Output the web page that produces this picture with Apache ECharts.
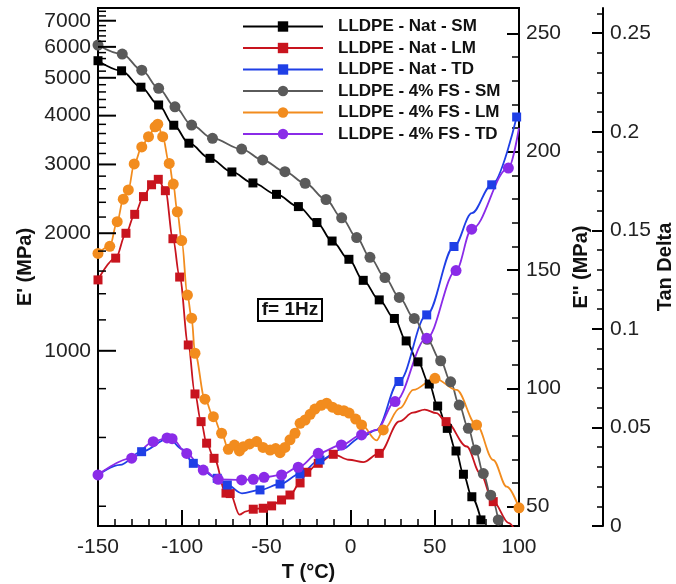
<!DOCTYPE html>
<html>
<head>
<meta charset="utf-8">
<title>LLDPE DMA</title>
<script src="https://cdn.jsdelivr.net/npm/echarts@6/dist/echarts.min.js"></script>
<style>
  html, body { margin: 0; background: #fff; }
  #chart { width: 676px; height: 584px; }
</style>
</head>
<body>
<div id="chart"></div>
<script>
// T (°C) vs storage modulus E' (MPa, log axis)
const natSM = [[-150, 5530], [-136, 5210], [-124.5, 4730], [-114, 4260], [-105, 3780], [-96, 3400], [-83.5, 3110], [-70.5, 2870], [-58, 2690], [-44, 2515], [-31, 2340], [-20, 2130], [-11, 1910], [-1, 1715], [7.5, 1515], [17, 1350], [26, 1210], [33, 1060], [40, 937], [46.7, 822], [51.7, 722], [57.4, 633], [62.6, 554], [67, 483], [72, 423], [77.4, 369]]
const fsSM = [[-150, 6065], [-135.6, 5750], [-124, 5230], [-114, 4700], [-104.3, 4215], [-94.4, 3785], [-82, 3500], [-64.7, 3285], [-52.2, 3080], [-39, 2875], [-27, 2685], [-14.6, 2440], [-5.3, 2190], [3.6, 1950], [11.5, 1735], [20.4, 1540], [28.9, 1370], [37.8, 1210], [45.5, 1070], [53.5, 943], [59.4, 833], [64.5, 726], [69.9, 633], [74.3, 557], [78.8, 485], [83.2, 427], [87.7, 369]]

// loss modulus E'' (MPa); *Fit = points on the fitted curve without a marker
const natLM = [[-150, 145.8], [-139.5, 155], [-133.4, 165.5], [-128.2, 173.5], [-123, 181], [-118.2, 186], [-114.2, 188.3], [-110, 183.5], [-105.5, 163.2], [-101.5, 147], [-96.4, 118.3], [-92.4, 97.6], [-88.8, 85.9], [-85.5, 76.8], [-81.1, 70.4], [-74, 55.7], [-71.5, 55.5], [-57.8, 48.9], [-51.9, 49.3], [-46.9, 50.3], [-41, 52.8], [-36, 54.9], [-30, 60], [-26, 64.5], [-19.2, 68.3], [-10.3, 72.1], [17, 72.5], [56.7, 85.9], [84.7, 52.1]]
const natLMFit = [[-66, 46.6], [-62, 48], [-1, 69.8], [7.5, 68.8], [29, 86], [37, 89.7], [44, 91], [51, 89.5], [69, 75.4], [77, 64], [94, 43], [99, 38]]
const fsLM = [[-150, 157], [-143, 160], [-138.6, 170.4], [-135, 179.9], [-132, 183.8], [-128.5, 194.8], [-124, 202], [-120, 206.3], [-116.1, 210.5], [-114.5, 211.6], [-111.6, 206.3], [-107.7, 195], [-105.3, 186.3], [-102.9, 174.6], [-100.3, 162.4], [-96.9, 139.4], [-94.4, 129.6], [-92.4, 114.8], [-86.5, 95.4], [-81.5, 88], [-76.6, 81], [-72.6, 74.2], [-69, 76], [-66, 73.5], [-63.7, 75.3], [-60, 76.5], [-55.8, 77.5], [-52, 75], [-47.8, 73.9], [-44.5, 74.5], [-41.9, 72.8], [-39, 75], [-36, 78.2], [-33, 81], [-30, 85.2], [-27, 86.6], [-24, 89], [-21.2, 91.2], [-17.5, 92.8], [-14.2, 93.7], [-10.8, 92], [-7.4, 90.9], [-4, 90.5], [-0.9, 89.5], [3, 87], [6.5, 84.5], [19.4, 82.4], [50.1, 104.2], [74.8, 84.5], [100, 49.5]]
const fsLMFit = [[15.5, 78], [29.3, 91.6], [37.2, 99.3], [62.9, 99.3], [84.7, 69.7], [92.7, 58.4]]

// tan delta
const natTD = [[-124.1, 0.0377], [-93.4, 0.0318], [-79.2, 0.0242], [-73.2, 0.0208], [-53.8, 0.0183], [-41.9, 0.0213], [-30.1, 0.0264], [-18.2, 0.0335], [28.7, 0.0733], [45.2, 0.1071], [61.4, 0.1418], [83.8, 0.1731], [98.6, 0.2075]]
const natTDFit = [[-150, 0.0259], [-137, 0.031], [-108, 0.0445], [-100, 0.039], [-64.5, 0.0166], [-5, 0.039], [6, 0.045], [15.4, 0.0487], [72, 0.1587]]
const fsTD = [[-150, 0.0259], [-130, 0.0344], [-117.2, 0.0428], [-109, 0.0447], [-106, 0.0443], [-97.3, 0.0368], [-87.5, 0.0284], [-78.6, 0.0237], [-64.7, 0.0234], [-57.8, 0.0237], [-51.4, 0.0247], [-41, 0.0259], [-31.1, 0.0298], [-19.2, 0.0369], [-5.5, 0.0411], [6.5, 0.0462], [26.4, 0.0631], [45.2, 0.0953], [62.6, 0.1296], [71.9, 0.1506], [93.7, 0.1816]]
const fsTDFit = [[15.4, 0.0488], [100, 0.202]]

const seriesNames = ['LLDPE - Nat - SM', 'LLDPE - Nat - LM', 'LLDPE - Nat - TD', 'LLDPE - 4% FS - SM', 'LLDPE - 4% FS - LM', 'LLDPE - 4% FS - TD']

// tick values
const eMajor = [1000, 2000, 3000, 4000, 5000, 6000, 7000]
const eMinor = [400, 600, 800, 1200, 1400, 1600, 1800, 2200, 2400, 2600, 2800, 3200, 3400, 3600, 3800, 4200, 4400, 4600, 4800, 5200, 5400, 5600, 5800, 6200, 6400, 6600, 6800, 7200, 7400]
const e2Major = [50, 100, 150, 200, 250]
const e2Minor = [60, 70, 80, 90, 110, 120, 130, 140, 160, 170, 180, 190, 210, 220, 230, 240]
const tdMajor = [0, 0.05, 0.1, 0.15, 0.2, 0.25]
const tdMinor = [0.01, 0.02, 0.03, 0.04, 0.06, 0.07, 0.08, 0.09, 0.11, 0.12, 0.13, 0.14, 0.16, 0.17, 0.18, 0.19, 0.21, 0.22, 0.23, 0.24, 0.26]

const T_MIN = -150
const T_MAX = 100
const FONT = 'Liberation Sans, Arial, sans-serif'
const LABEL = { fontFamily: FONT, fontSize: 21, color: '#222' }
const NAME = { fontFamily: FONT, fontSize: 20, fontWeight: 'bold', color: '#111' }

const chart = echarts.init(document.getElementById('chart'), null, { renderer: 'canvas' })

function withFit(marked, fit) {
  const pts = marked.map((p) => ({ value: p }))
    .concat(fit.map((p) => ({ value: p, symbol: 'none' })))
  return pts.sort((a, b) => a.value[0] - b.value[0])
}

function lineSeries(name, data, yAxisIndex, color, symbol, size) {
  return {
    name,
    type: 'line',
    yAxisIndex,
    data,
    color,
    symbol,
    symbolSize: size,
    showAllSymbol: true,
    smooth: 0.35,
    smoothMonotone: 'x',
    lineStyle: { width: 1.8, color },
    itemStyle: { color },
    emphasis: { disabled: true },
  }
}

function sideAxis(opts) {
  return Object.assign({
    type: 'value',
    position: 'right',
    splitLine: { show: false },
    axisLine: { show: true, onZero: false, lineStyle: { color: '#000', width: 2 } },
  }, opts)
}

// ticks + labels of the log E' axis, placed with the axis' own scale
const logTicks = {
  type: 'custom',
  yAxisIndex: 0,
  silent: true,
  clip: false,
  z: 4,
  data: eMajor.concat(eMinor).map((v) => [T_MIN, v]),
  renderItem(params, api) {
    const v = api.value(1)
    const p = api.coord([api.value(0), v])
    const major = params.dataIndex < eMajor.length
    const children = [{
      type: 'line',
      shape: { x1: p[0], y1: p[1], x2: p[0] + (major ? 18 : 8), y2: p[1] },
      style: { stroke: '#000', lineWidth: major ? 2 : 1.5 },
    }]
    if (major) {
      children.push({
        type: 'text',
        x: p[0] - 7,
        y: p[1],
        style: { text: String(v), font: `21px ${FONT}`, fill: '#222', align: 'right', verticalAlign: 'middle' },
      })
    }
    return { type: 'group', children }
  },
}

chart.setOption({
  animation: false,
  backgroundColor: '#fff',
  grid: {
    left: 98, right: 157, top: 8, bottom: 58,
    outerBoundsMode: 'none',
    containLabel: false,
    show: true, borderColor: '#000', borderWidth: 2, backgroundColor: 'transparent',
  },
  legend: {
    data: seriesNames,
    orient: 'vertical',
    left: 242,
    top: 18,
    padding: 0,
    itemWidth: 80,
    itemHeight: 13,
    itemGap: 4.5,
    textStyle: { fontFamily: FONT, fontSize: 17, fontWeight: 'bold', color: '#111', lineHeight: 17, padding: [0, 0, 0, 10] },
  },
  xAxis: {
    type: 'value',
    min: T_MIN,
    max: T_MAX,
    interval: 50,
    name: 'T (°C)',
    nameLocation: 'middle',
    nameGap: 35,
    nameTextStyle: NAME,
    splitLine: { show: false },
    axisLine: { onZero: false, lineStyle: { color: '#000', width: 2 } },
    axisTick: { inside: true, length: 16, lineStyle: { color: '#000', width: 2 } },
    minorTick: { show: true, splitNumber: 5, length: 7, lineStyle: { color: '#000', width: 1.5 } },
    axisLabel: Object.assign({ margin: 11 }, LABEL),
  },
  yAxis: [
    {
      type: 'log',
      logBase: 10,
      min: 356,
      max: 7545,
      position: 'left',
      name: "E' (MPa)",
      nameLocation: 'middle',
      nameRotate: 90,
      nameGap: 63,
      nameTextStyle: NAME,
      splitLine: { show: false },
      axisLine: { show: true, onZero: false, lineStyle: { color: '#000', width: 2 } },
      axisTick: { show: false },
      axisLabel: { show: false },
    },
    sideAxis({
      min: 41.8,
      max: 260.7,
      name: "E'' (MPa)",
      nameLocation: 'middle',
      nameRotate: 90,
      nameGap: 45,
      nameTextStyle: NAME,
      axisTick: { inside: true, length: 12, customValues: e2Major, lineStyle: { color: '#000', width: 2 } },
      axisLabel: Object.assign({ margin: 7, customValues: e2Major }, LABEL),
    }),
    sideAxis({
      min: 41.8,
      max: 260.7,
      axisLine: { show: false, onZero: false },
      axisTick: { inside: true, length: 7, customValues: e2Minor, lineStyle: { color: '#000', width: 1.5 } },
      axisLabel: { show: false },
    }),
    sideAxis({
      min: 0,
      max: 0.2628,
      offset: 84,
      name: 'Tan Delta',
      nameLocation: 'middle',
      nameRotate: 90,
      nameGap: 52,
      nameMoveOverlap: false,
      nameTextStyle: NAME,
      axisTick: { inside: true, length: 11, customValues: tdMajor, lineStyle: { color: '#000', width: 2 } },
      axisLabel: Object.assign({ margin: 7, customValues: tdMajor }, LABEL),
    }),
    sideAxis({
      min: 0,
      max: 0.2628,
      offset: 84,
      axisLine: { show: false, onZero: false },
      axisTick: { inside: true, length: 6, customValues: tdMinor, lineStyle: { color: '#000', width: 1.5 } },
      axisLabel: { show: false },
    }),
  ],
  graphic: [{
    type: 'group',
    left: 257,
    top: 298,
    children: [
      { type: 'rect', shape: { x: 0, y: 0, width: 64, height: 22 }, style: { fill: '#fff', stroke: '#000', lineWidth: 2 } },
      { type: 'text', x: 32, y: 11, style: { text: 'f= 1Hz', font: `bold 19px ${FONT}`, fill: '#111', align: 'center', verticalAlign: 'middle' } },
    ],
  }],
  series: [
    lineSeries(seriesNames[0], natSM, 0, '#000000', 'rect', 9),
    lineSeries(seriesNames[1], withFit(natLM, natLMFit), 1, '#c8141e', 'rect', 9),
    lineSeries(seriesNames[2], withFit(natTD, natTDFit), 3, '#1f3fe6', 'rect', 9),
    lineSeries(seriesNames[3], fsSM, 0, '#5a5a5a', 'circle', 11),
    lineSeries(seriesNames[4], withFit(fsLM, fsLMFit), 1, '#f28c1e', 'circle', 11),
    lineSeries(seriesNames[5], withFit(fsTD, fsTDFit), 3, '#8a2be8', 'circle', 11),
    logTicks,
  ],
})
</script>
</body>
</html>
